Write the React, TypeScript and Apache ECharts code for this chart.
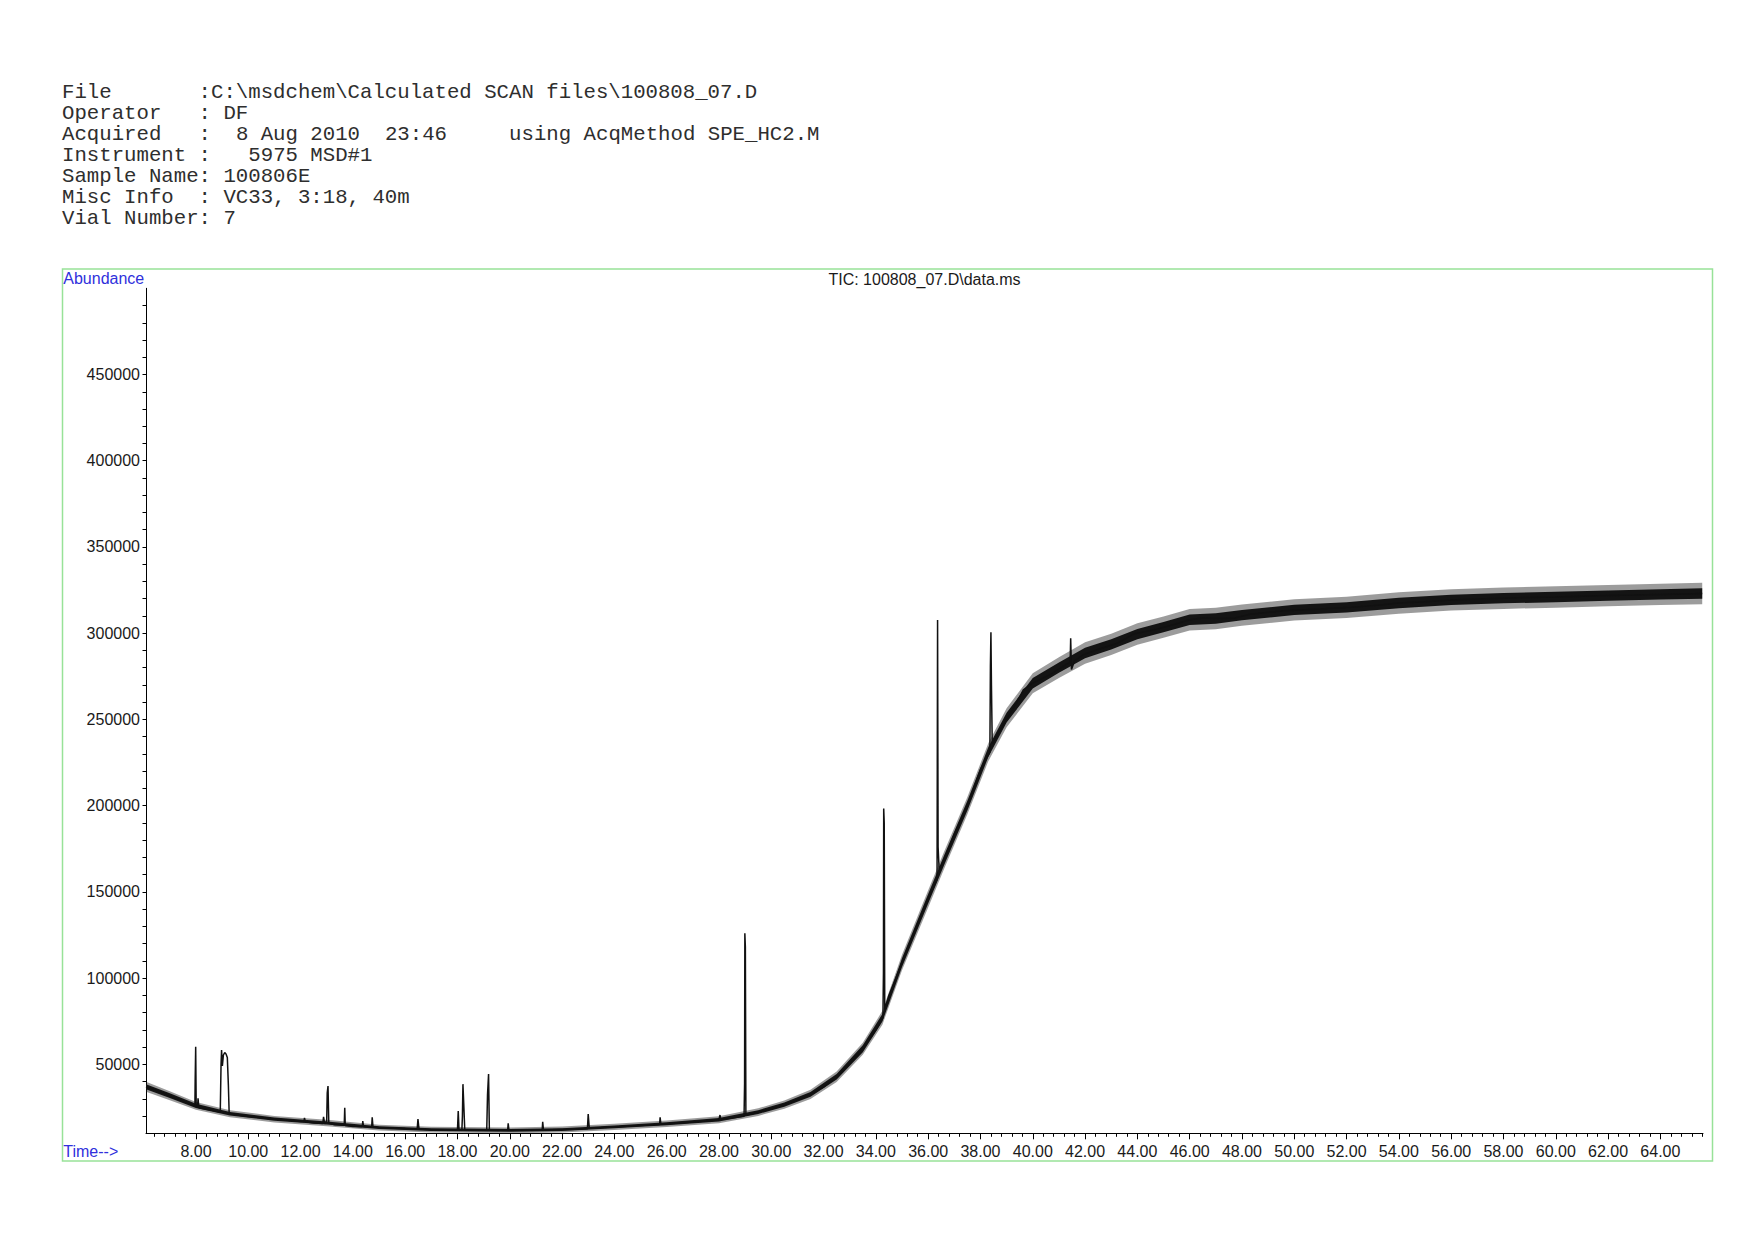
import React, { useEffect, useRef } from 'react';
import * as echarts from 'echarts';

// ---------- texts ----------
const headerLines = [
  'File       :C:\\msdchem\\Calculated SCAN files\\100808_07.D',
  'Operator   : DF',
  'Acquired   :  8 Aug 2010  23:46     using AcqMethod SPE_HC2.M',
  'Instrument :   5975 MSD#1',
  'Sample Name: 100806E',
  'Misc Info  : VC33, 3:18, 40m',
  'Vial Number: 7',
];
const chartTitle = 'TIC: 100808_07.D\\data.ms';
const yAxisName = 'Abundance';
const xAxisName = 'Time-->';

// ---------- axes ----------
const xMin = 6.09;
const xMax = 65.63;
const yMin = 10000;
const yMax = 500000;
const xLabelTicks = [8, 10, 12, 14, 16, 18, 20, 22, 24, 26, 28, 30, 32, 34, 36, 38, 40, 42, 44, 46, 48, 50, 52, 54, 56, 58, 60, 62, 64];
const yLabelTicks = [50000, 100000, 150000, 200000, 250000, 300000, 350000, 400000, 450000];
const xMinorStep = 0.4;
const yMinorStep = 10000;

// ---------- TIC trace (retention time in min, abundance) ----------
const traceTimes = [
  6.09, 6.3, 6.5, 6.7, 6.9, 7.1, 7.3, 7.5, 7.7, 7.9,
  7.96, 7.97, 7.99, 8.01, 8.06, 8.08, 8.11, 8.3, 8.5, 8.7,
  8.93, 8.96, 8.98, 9.01, 9.05, 9.1, 9.15, 9.2, 9.24, 9.27,
  9.5, 10.0, 10.5, 11.0, 11.5, 12.0, 12.13, 12.15, 12.18, 12.5,
  12.85, 12.88, 12.92, 13.0, 13.02, 13.05, 13.08, 13.3, 13.67, 13.69,
  13.71, 14.0, 14.36, 14.38, 14.41, 14.72, 14.74, 14.77, 15.0, 15.6,
  16.0, 16.46, 16.49, 16.53, 17.0, 17.5, 18.0, 18.03, 18.06, 18.17,
  18.19, 18.21, 18.24, 18.28, 18.6, 19.12, 19.15, 19.19, 19.22, 19.6,
  19.92, 19.94, 19.97, 20.5, 21.0, 21.24, 21.26, 21.29, 21.6, 22.0,
  22.5, 22.97, 23.0, 23.04, 23.5, 24.0, 24.5, 25.0, 25.5, 25.73,
  25.75, 25.78, 26.0, 26.5, 27.0, 27.5, 28.0, 28.04, 28.07, 28.5,
  28.96, 28.98, 28.99, 29.01, 29.03, 29.2, 29.5, 30.0, 30.5, 31.0,
  31.5, 32.0, 32.5, 33.0, 33.5, 34.0, 34.27, 34.29, 34.3, 34.32,
  34.34, 34.5, 35.0, 35.5, 36.0, 36.34, 36.36, 36.38, 36.42, 36.6,
  37.0, 37.5, 38.0, 38.36, 38.38, 38.4, 38.42, 38.45, 38.75, 39.13,
  39.4, 39.64, 40.0, 40.65, 41.3, 41.43, 41.45, 41.48, 41.6, 41.93,
  42.57, 43.21, 43.85, 44.5, 45.12, 45.5, 46.0, 46.5, 47.0, 47.67,
  48.3, 48.95, 49.6, 50.22, 51.0, 51.5, 52.2, 52.77, 53.4, 54.0,
  55.0, 56.0, 57.0, 58.0, 59.0, 60.0, 61.0, 62.0, 63.0, 64.0,
  65.0, 65.6,
];
const traceValues = [
  37000, 35800, 34800, 33600, 32500, 31000, 29800, 28600, 27400, 26200,
  25800, 40000, 60200, 25400, 25000, 30300, 24800, 24200, 23600, 23000,
  22200, 50000, 58300, 49000, 55400, 56800, 56000, 54000, 38000, 21700,
  20800, 19700, 19000, 18300, 17600, 16900, 16800, 19000, 16700, 16000,
  15700, 19600, 15600, 17000, 33300, 37400, 16000, 14900, 14600, 24800,
  14500, 14000, 13800, 17100, 13800, 13600, 19300, 13600, 13300, 13000,
  12800, 12600, 18300, 12500, 12100, 11900, 11800, 22900, 12000, 12000,
  20000, 38500, 27300, 11800, 11700, 11700, 32600, 44400, 11900, 11800,
  11700, 15800, 11700, 11700, 11800, 11800, 16700, 11800, 12000, 12200,
  12400, 12600, 21200, 13200, 13400, 13700, 14100, 14500, 14900, 15100,
  19300, 15200, 15500, 16000, 16600, 17200, 17900, 20600, 18000, 18800,
  19900, 39000, 126000, 118000, 20500, 21000, 22300, 24200, 26600, 29400,
  32600, 36800, 42800, 50500, 59000, 69800, 77000, 103000, 198300, 190000,
  82000, 90000, 109000, 128000, 146000, 157000, 307700, 176000, 163000, 168000,
  183500, 200000, 221000, 231000, 280600, 300500, 270000, 236000, 244000, 253500,
  260000, 267100, 271000, 275800, 282000, 283000, 297000, 279000, 284000, 287500,
  291000, 294000, 299500, 301500, 303800, 305500, 307800, 308800, 308500, 308600,
  311000, 312000, 313000, 313500, 314000, 314500, 315000, 315700, 316500, 317500,
  318300, 319300, 319900, 320300, 320700, 321000, 321400, 321800, 322100, 322500,
  322800, 323000,
];

// ---------- baseline noise band (centre, dense core half-width, spike half-width) ----------
const bandTimes = [
  6.09, 7.0, 8.0, 9.3, 11.0, 13.0, 15.0, 17.0, 20.0, 22.0,
  24.0, 26.0, 28.0, 29.5, 30.5, 31.5, 32.5, 33.5, 34.25, 35.0,
  36.0, 36.6, 37.5, 38.3, 39.0, 40.0, 41.0, 42.0, 43.0, 44.0,
  45.0, 46.0, 47.0, 48.0, 50.0, 52.0, 54.0, 56.0, 58.0, 60.0,
  62.0, 64.0, 65.6,
];
const bandCenter = [
  37000, 31800, 25900, 21300, 18200, 16000, 13300, 12100, 11700, 12200,
  13700, 15500, 17900, 22300, 26600, 32600, 42800, 59000, 77000, 109000,
  146000, 168000, 200000, 231000, 251000, 271000, 280000, 288500, 293500, 299500,
  303500, 307800, 308500, 310500, 313500, 315000, 317500, 319300, 320300, 321000,
  321800, 322500, 323000,
];
const bandCore = [
  1500, 1400, 1200, 1000, 900, 900, 800, 800, 800, 800,
  800, 900, 1000, 1100, 1200, 1400, 1600, 2000, 2200, 2500,
  2800, 2800, 2800, 2800, 2800, 3000, 3000, 3000, 3000, 3000,
  3000, 3000, 3000, 3000, 3000, 3000, 3000, 3000, 3000, 3000,
  3000, 3000, 3000,
];
const bandSpread = [
  2900, 2600, 2200, 2000, 1900, 1900, 1700, 1700, 1700, 1700,
  1800, 1900, 2000, 2200, 2400, 2700, 3000, 3500, 4000, 4500,
  5000, 5000, 5000, 5200, 5500, 5800, 6000, 6200, 6200, 6200,
  6200, 6200, 6200, 6200, 6200, 6200, 6200, 6200, 6200, 6200,
  6200, 6200, 6200,
];

const SANS = "'Liberation Sans', Arial, Helvetica, sans-serif";
const MONO = "'Liberation Mono', 'Courier New', monospace";
const BLUE = '#3030dc';
const INK = '#1a1a1a';
const HEADER_INK = '#2e2e2e';

function buildTicks(from: number, to: number, step: number): number[] {
  const out: number[] = [];
  const n = Math.floor((to - from) / step + 1e-6);
  for (let i = 0; i <= n; i++) out.push(Math.round((from + i * step) * 1000) / 1000);
  return out;
}

export default function App() {
  const ref = useRef<HTMLDivElement>(null);

  useEffect(() => {
    const el = ref.current;
    if (!el) return;
    const chart = echarts.init(el, null, { renderer: 'svg', width: 1754, height: 1240 });

    const xMinorTicks = buildTicks(6.4, xMax, xMinorStep);
    const yMinorTicks = buildTicks(20000, 490000, yMinorStep);

    const gridLeft = 146;
    const gridTop = 288.3;
    const gridWidth = 1557;
    const gridHeight = 845;

    // header text, placed token by token on a monospaced column grid
    const charW = 12.42;
    const headerX = 62;
    const headerY = 92.8;
    const lineH = 20.9;
    const headerEls: any[] = [];
    headerLines.forEach((line, row) => {
      const re = /\S+(?: \S+)*/g;
      let m: RegExpExecArray | null;
      while ((m = re.exec(line))) {
        headerEls.push({
          type: 'text',
          x: headerX + m.index * charW,
          y: headerY + row * lineH,
          silent: true,
          style: {
            text: m[0],
            fill: HEADER_INK,
            fontFamily: MONO,
            fontSize: 20.7,
            align: 'left',
            textAlign: 'left',
            verticalAlign: 'middle',
            textVerticalAlign: 'middle',
          },
        });
      }
    });

    const traceData = traceTimes.map((t, i) => [t, traceValues[i]]);

    const bandRender = (params: any, api: any) => {
      if (params.dataIndex !== 0) return null;
      const outer: number[][] = [];
      const inner: number[][] = [];
      for (let i = 0; i < bandTimes.length; i++) {
        outer.push(api.coord([bandTimes[i], bandCenter[i] + bandSpread[i]]));
        inner.push(api.coord([bandTimes[i], bandCenter[i] + bandCore[i]]));
      }
      for (let i = bandTimes.length - 1; i >= 0; i--) {
        outer.push(api.coord([bandTimes[i], bandCenter[i] - bandSpread[i]]));
        inner.push(api.coord([bandTimes[i], bandCenter[i] - bandCore[i]]));
      }
      return {
        type: 'group',
        children: [
          { type: 'polygon', shape: { points: outer }, style: { fill: 'rgba(20,20,20,0.42)' } },
          { type: 'polygon', shape: { points: inner }, style: { fill: '#141414' } },
        ],
      };
    };

    const option: any = {
      animation: false,
      backgroundColor: '#ffffff',
      grid: { left: gridLeft, top: gridTop, width: gridWidth, height: gridHeight, containLabel: false },
      xAxis: [
        {
          type: 'value',
          min: xMin,
          max: xMax,
          position: 'bottom',
          axisLine: { show: true, onZero: false, lineStyle: { color: '#000', width: 1 } },
          axisTick: { show: true, customValues: xLabelTicks, length: 6, lineStyle: { color: '#000', width: 1 } },
          axisLabel: {
            show: true,
            customValues: xLabelTicks,
            formatter: (v: number) => v.toFixed(2),
            fontFamily: SANS,
            fontSize: 16,
            color: INK,
            margin: 10,
          },
          splitLine: { show: false },
        },
        {
          type: 'value',
          min: xMin,
          max: xMax,
          position: 'bottom',
          offset: 0,
          axisLine: { show: false, onZero: false },
          axisTick: { show: true, customValues: xMinorTicks, length: 3.5, lineStyle: { color: '#000', width: 1 } },
          axisLabel: { show: false },
          splitLine: { show: false },
        },
      ],
      yAxis: [
        {
          type: 'value',
          min: yMin,
          max: yMax,
          position: 'left',
          axisLine: { show: true, onZero: false, lineStyle: { color: '#000', width: 1 } },
          axisTick: { show: true, customValues: yMinorTicks, length: 3.5, lineStyle: { color: '#000', width: 1 } },
          axisLabel: {
            show: true,
            customValues: yLabelTicks,
            formatter: (v: number) => String(v),
            fontFamily: SANS,
            fontSize: 16,
            color: INK,
            margin: 6,
          },
          splitLine: { show: false },
        },
      ],
      series: [
        {
          type: 'custom',
          coordinateSystem: 'cartesian2d',
          xAxisIndex: 0,
          yAxisIndex: 0,
          data: [[30, 100000]],
          renderItem: bandRender,
          silent: true,
          z: 1,
        },
        {
          type: 'line',
          xAxisIndex: 0,
          yAxisIndex: 0,
          data: traceData,
          showSymbol: false,
          symbol: 'none',
          silent: true,
          clip: true,
          lineStyle: { color: '#111', width: 1.5 },
          z: 2,
        },
      ],
      graphic: [
        {
          type: 'rect',
          silent: true,
          shape: { x: 62.5, y: 269, width: 1650, height: 892 },
          style: { fill: 'none', stroke: '#98e298', lineWidth: 1.5 },
          z: 0,
        },
        {
          type: 'text',
          x: 63.3,
          y: 278.4,
          silent: true,
          style: {
            text: yAxisName,
            fill: BLUE,
            fontFamily: SANS,
            fontSize: 16,
            align: 'left',
            textAlign: 'left',
            verticalAlign: 'middle',
            textVerticalAlign: 'middle',
          },
        },
        {
          type: 'text',
          x: 63.3,
          y: 1151.7,
          silent: true,
          style: {
            text: xAxisName,
            fill: BLUE,
            fontFamily: SANS,
            fontSize: 16,
            align: 'left',
            textAlign: 'left',
            verticalAlign: 'middle',
            textVerticalAlign: 'middle',
          },
        },
        {
          type: 'text',
          x: gridLeft + gridWidth / 2,
          y: 279.5,
          silent: true,
          style: {
            text: chartTitle,
            fill: INK,
            fontFamily: SANS,
            fontSize: 16,
            align: 'center',
            textAlign: 'center',
            verticalAlign: 'middle',
            textVerticalAlign: 'middle',
          },
        },
        ...headerEls,
      ],
    };

    chart.setOption(option);
    return () => {
      chart.dispose();
    };
  }, []);

  return (
    <div
      ref={ref}
      style={{ position: 'fixed', left: 0, top: 0, width: 1754, height: 1240, background: '#fff' }}
    />
  );
}
